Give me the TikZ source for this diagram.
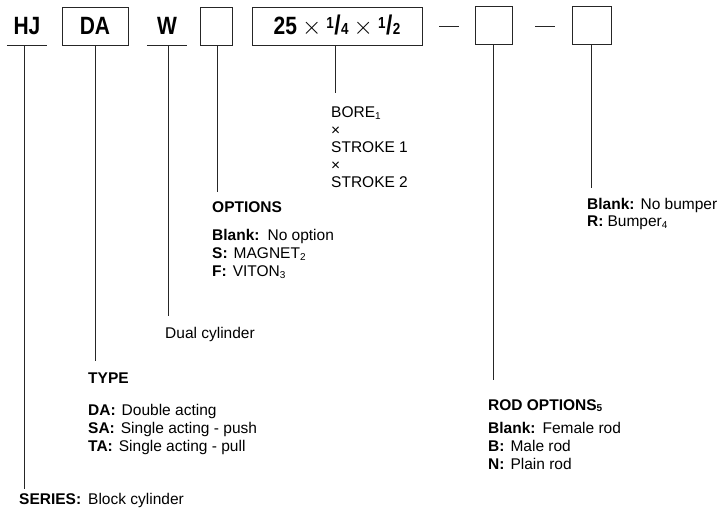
\documentclass[tikz,border=0pt]{standalone}
\usepackage{fontspec}
\setmainfont{Liberation Sans}
\newfontfamily\topfont{Liberation Sans}[FakeStretch=0.84]
\newcommand\lowsub[1]{\raisebox{-1.5pt}{\fontsize{10}{10}\selectfont #1}}
\newcommand\myfrac[2]{\raisebox{6pt}{\fontsize{16}{16}\selectfont #1}\kern0.5pt{\fontsize{27}{27}\selectfont /}\kern0.5pt{\fontsize{16}{16}\selectfont #2}}
\newcommand\mytimes{\hspace{5pt}{\mdseries\fontsize{25}{25}\selectfont\(\times\)}\hspace{5pt}}
\tikzset{
  ln/.style={line width=0.8pt, draw=black!85},
  codetext/.style={inner sep=0pt, minimum height=38pt, font=\topfont\fontsize{25}{25}\selectfont\bfseries},
  codebox/.style={codetext, ln},
  lbl/.style={inner sep=0pt, anchor=base west, font=\fontsize{15.5}{18}\selectfont},
}
\begin{document}
\begin{tikzpicture}[x=1pt,y=-1pt]
\useasboundingbox (0,0) rectangle (720,518);
% code row
\node[codetext, minimum width=40pt] (hj) at (27,26) {\raisebox{-1.5pt}{HJ}};
\node[codebox, minimum width=66pt] (da) at (95,26) {\raisebox{-1.5pt}{DA}};
\node[codetext, minimum width=40pt] (w) at (167,26) {\raisebox{-1.5pt}{W}};
\node[codebox, minimum width=32pt] (opt) at (216,26) {};
\node[codebox, minimum width=170pt] (size) at (337,26) {\raisebox{-1.5pt}{25\mytimes\myfrac{1}{4}\mytimes\myfrac{1}{2}}};
\node[codebox, minimum width=37pt] (rod) at (493.5,25) {};
\node[codebox, minimum width=39pt] (bump) at (591.5,25) {};
\draw[ln] (hj.south west) -- (hj.south east);
\draw[ln] (w.south west) -- (w.south east);
\coordinate (d1a) at (439,26); \coordinate (d1b) at (459,26);
\coordinate (d2a) at (535,26); \coordinate (d2b) at (555,26);
\draw[ln] (d1a) -- (d1b);
\draw[ln] (d2a) -- (d2b);
% labels
\node[lbl] (series) at (19,504) {\textbf{SERIES:}\hspace{7pt}Block cylinder};
\node[lbl] (type) at (88,384) {\textbf{TYPE}};
\node[lbl] (typeDA) at (88,415) {\textbf{DA:}\hspace{6pt}Double acting};
\node[lbl] (typeSA) at (88,433) {\textbf{SA:}\hspace{6pt}Single acting - push};
\node[lbl] (typeTA) at (88,451) {\textbf{TA:}\hspace{6pt}Single acting - pull};
\node[lbl] (dual) at (165,339) {Dual cylinder};
\node[lbl] (options) at (212,213) {\textbf{OPTIONS}};
\node[lbl] (optBlank) at (212,241) {\textbf{Blank:}\hspace{8pt}No option};
\node[lbl] (optS) at (212,259) {\textbf{S:}\hspace{6pt}MAGNET\lowsub{2}};
\node[lbl] (optF) at (212,277) {\textbf{F:}\hspace{6pt}VITON\lowsub{3}};
\node[lbl] (bore) at (331,118) {BORE\lowsub{1}};
\node[lbl] (x1) at (331,135.5) {×};
\node[lbl] (s1) at (331,153) {STROKE 1};
\node[lbl] (x2) at (331,170.5) {×};
\node[lbl] (s2) at (331,188) {STROKE 2};
\node[lbl] (bumpBlank) at (587,210) {\textbf{Blank:}\hspace{6pt}No bumper};
\node[lbl] (bumpR) at (587,227) {\textbf{R:}\hspace{4pt}Bumper\lowsub{4}};
\node[lbl] (rodTitle) at (488,410) {\textbf{ROD OPTIONS\lowsub{5}}};
\node[lbl] (rodBlank) at (488,433) {\textbf{Blank:}\hspace{7pt}Female rod};
\node[lbl] (rodB) at (488,451) {\textbf{B:}\hspace{6pt}Male rod};
\node[lbl] (rodN) at (488,469) {\textbf{N:}\hspace{6pt}Plain rod};
% connectors
\draw[ln, shorten >=3.7pt] ([xshift=-3pt]hj.south) -- ([xshift=-3pt]hj.south |- series.north);
\draw[ln, shorten >=12pt] (da.south) -- (da.south |- type.north);
\draw[ln, shorten >=11.7pt] ([xshift=1pt]w.south) -- ([xshift=1pt]w.south |- dual.north);
\draw[ln, shorten >=10pt] ([xshift=1pt]opt.south) -- ([xshift=1pt]opt.south |- options.north);
\draw[ln, shorten >=14pt] ([xshift=-2pt]size.south) -- ([xshift=-2pt]size.south |- bore.north);
\draw[ln, shorten >=19pt] (rod.south) -- (rod.south |- rodTitle.north);
\draw[ln, shorten >=10.7pt] (bump.south) -- (bump.south |- bumpBlank.north);
\end{tikzpicture}
\end{document}
